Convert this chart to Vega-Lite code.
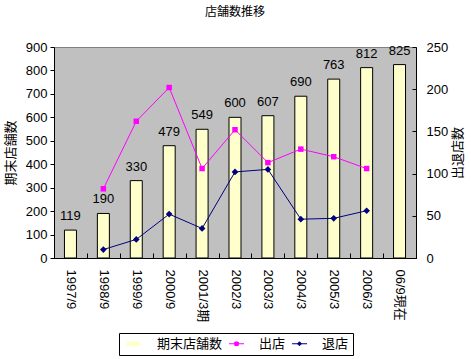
{
  "$schema": "https://vega.github.io/schema/vega-lite/v6.json",
  "width": 362,
  "height": 211,
  "autosize": {"type": "none"},
  "padding": {"left": 54, "top": 47, "right": 55, "bottom": 101},
  "background": "white",
  "title": {"text": "店舗数推移", "fontSize": 12, "fontWeight": "normal", "font": "Noto Sans CJK JP", "offset": 22, "anchor": "middle", "color": "black"},
  "config": {
    "view": {"fill": "#C0C0C0", "stroke": "#808080", "strokeWidth": 1},
    "font": "Liberation Sans, Noto Sans CJK JP",
    "axis": {"grid": false, "domainColor": "black", "tickColor": "black", "labelColor": "black", "titleColor": "black", "labelFontSize": 13, "titleFontSize": 13, "titleFontWeight": "normal", "titleFont": "Noto Sans CJK JP", "labelFont": "Liberation Sans, Noto Sans CJK JP"},
    "legend": {
      "labelFont": "Noto Sans CJK JP", "title": null, "labelColor": "black",
      "orient": "none", "legendX": 65, "legendY": 286, "direction": "horizontal", "strokeColor": "black", "fillColor": "white", "padding": 4, "labelFontSize": 13, "symbolSize": 100, "columnPadding": 2, "labelOffset": 21, "symbolStrokeWidth": 1
    }
  },
  "data": {
    "values": [
      {"period": "1997/9", "series": "期末店舗数", "value": 119},
      {"period": "1998/9", "series": "期末店舗数", "value": 190},
      {"period": "1999/9", "series": "期末店舗数", "value": 330},
      {"period": "2000/9", "series": "期末店舗数", "value": 479},
      {"period": "2001/3期", "series": "期末店舗数", "value": 549},
      {"period": "2002/3", "series": "期末店舗数", "value": 600},
      {"period": "2003/3", "series": "期末店舗数", "value": 607},
      {"period": "2004/3", "series": "期末店舗数", "value": 690},
      {"period": "2005/3", "series": "期末店舗数", "value": 763},
      {"period": "2006/3", "series": "期末店舗数", "value": 812},
      {"period": "06/9現在", "series": "期末店舗数", "value": 825},
      {"period": "1998/9", "series": "出店", "value": 82},
      {"period": "1999/9", "series": "出店", "value": 162},
      {"period": "2000/9", "series": "出店", "value": 202},
      {"period": "2001/3期", "series": "出店", "value": 106},
      {"period": "2002/3", "series": "出店", "value": 152},
      {"period": "2003/3", "series": "出店", "value": 113},
      {"period": "2004/3", "series": "出店", "value": 129},
      {"period": "2005/3", "series": "出店", "value": 120},
      {"period": "2006/3", "series": "出店", "value": 106},
      {"period": "1998/9", "series": "退店", "value": 10},
      {"period": "1999/9", "series": "退店", "value": 22},
      {"period": "2000/9", "series": "退店", "value": 52},
      {"period": "2001/3期", "series": "退店", "value": 35},
      {"period": "2002/3", "series": "退店", "value": 102},
      {"period": "2003/3", "series": "退店", "value": 105},
      {"period": "2004/3", "series": "退店", "value": 46},
      {"period": "2005/3", "series": "退店", "value": 47},
      {"period": "2006/3", "series": "退店", "value": 56}
    ]
  },
  "encoding": {
    "x": {
      "field": "period", "type": "nominal", "sort": null,
      "scale": {"domain": ["1997/9","1998/9","1999/9","2000/9","2001/3期","2002/3","2003/3","2004/3","2005/3","2006/3","06/9現在"], "paddingInner": 0, "paddingOuter": 0},
      "axis": {"title": null, "labelAngle": 90, "labelAlign": "left", "labelBaseline": "middle", "labelPadding": 16, "tickBand": "extent", "tickSize": -5, "domainColor": "black"}
    }
  },
  "layer": [
    {
      "transform": [{"filter": "datum.series === '期末店舗数'"}],
      "mark": {"type": "bar", "size": 12, "stroke": "black", "strokeWidth": 1},
      "encoding": {
        "y": {"field": "value", "type": "quantitative", "scale": {"domain": [0, 900]}, "axis": {"title": "期末店舗数", "values": [0,100,200,300,400,500,600,700,800,900], "tickSize": 4, "labelPadding": 3, "titlePadding": 8}},
        "color": {"field": "series", "type": "nominal", "scale": {"domain": ["期末店舗数", "出店", "退店"], "range": ["#FFFFCC", "#FF00FF", "#000080"]}, "legend": {"title": null}}
      }
    },
    {
      "transform": [{"filter": "datum.series === '期末店舗数'"}],
      "mark": {"type": "text", "baseline": "middle", "dy": -14, "fontSize": 13, "color": "black"},
      "encoding": {
        "y": {"field": "value", "type": "quantitative", "scale": {"domain": [0, 900]}, "axis": null},
        "text": {"field": "value", "type": "quantitative"}
      }
    },
    {
      "transform": [{"filter": "datum.series !== '期末店舗数'"}],
      "layer": [
        {
          "mark": {"type": "line", "strokeWidth": 1},
          "encoding": {
            "color": {"field": "series", "type": "nominal", "scale": {"domain": ["期末店舗数", "出店", "退店"], "range": ["#FFFFCC", "#FF00FF", "#000080"]}, "legend": {"title": null}}
          }
        },
        {
          "mark": {"type": "point", "filled": true, "opacity": 0, "size": 30},
          "encoding": {
            "color": {"field": "series", "type": "nominal", "scale": {"domain": ["期末店舗数", "出店", "退店"], "range": ["#FFFFCC", "#FF00FF", "#000080"]}, "legend": {"title": null}},
            "stroke": {"field": "series", "type": "nominal", "scale": {"domain": ["期末店舗数", "出店", "退店"], "range": ["black", "#FF00FF", "#000080"]}, "legend": {"title": null}},
            "shape": {"field": "series", "type": "nominal", "scale": {"domain": ["期末店舗数", "出店", "退店"], "range": ["M-0.5,-0.4H2.1V0.4H-0.5Z", "M-0.5,0H2.5M0.65,-0.35H1.35V0.35H0.65Z", "M-0.5,0H2.5M1,-0.4L1.4,0L1,0.4L0.6,0Z"]}, "legend": {"title": null}}
          }
        },
        {
          "transform": [{"filter": "datum.series === '出店'"}],
          "mark": {"type": "point", "shape": "square", "filled": true, "size": 30, "color": "#FF00FF", "opacity": 1}
        },
        {
          "transform": [{"filter": "datum.series === '退店'"}],
          "mark": {"type": "point", "shape": "diamond", "filled": true, "size": 45, "color": "#000080", "opacity": 1}
        }
      ],
      "encoding": {
        "y": {"field": "value", "type": "quantitative", "scale": {"domain": [0, 250]}, "axis": {"orient": "right", "title": "出退店数", "titleAngle": 270, "titleBaseline": "top", "values": [0,50,100,150,200,250], "tickSize": -4, "labelPadding": 14, "titlePadding": 4}}
      }
    }
  ],
  "resolve": {"scale": {"y": "independent"}}
}
